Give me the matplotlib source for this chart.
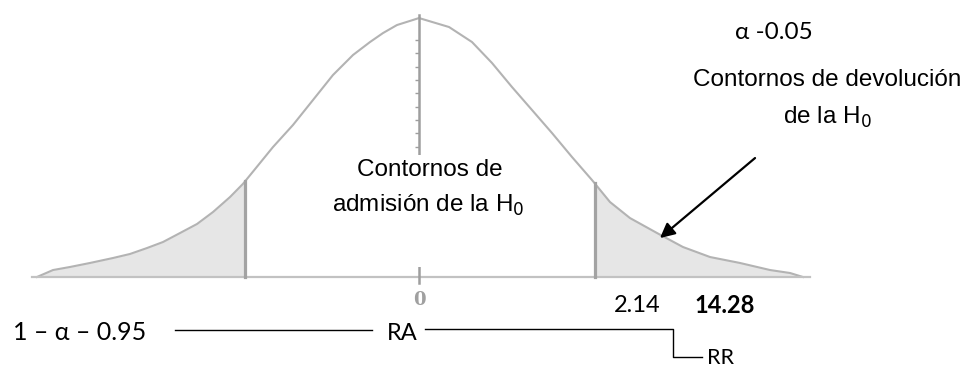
import numpy as np
import matplotlib
matplotlib.use("Agg")
import matplotlib.pyplot as plt
from matplotlib.patches import Rectangle

# ---- data (z units / density units) ----
curve_z = [-3.611, -3.459, -3.299, -3.110, -2.892, -2.732, -2.571, -2.420, -2.259,
           -2.098, -1.947, -1.786, -1.664, -1.569, -1.380, -1.191, -1.002, -0.813,
           -0.624, -0.463, -0.340, -0.208, -0.057, 0.000, 0.284, 0.501, 0.690,
           0.879, 1.068, 1.257, 1.446, 1.635, 1.805, 1.994, 2.250, 2.495, 2.751,
           3.034, 3.318, 3.507, 3.629]
curve_h = [0.0000, 0.0108, 0.0155, 0.0217, 0.0294, 0.0356, 0.0448, 0.0541, 0.0680,
           0.0820, 0.1005, 0.1237, 0.1440, 0.1630, 0.2010, 0.2351, 0.2737, 0.3124,
           0.3433, 0.3634, 0.3773, 0.3897, 0.3975, 0.4005, 0.3866, 0.3634, 0.3310,
           0.2938, 0.2583, 0.2227, 0.1856, 0.1500, 0.1160, 0.0912, 0.0680, 0.0464,
           0.0309, 0.0217, 0.0108, 0.0062, 0.0000]
crit_left = -1.645
crit_right = 1.66
axis_tick_h = [0.3665, 0.3464, 0.3248, 0.3047, 0.2846, 0.2629, 0.2428, 0.2227, 0.2010]
label_zero = "0"
label_crit = "2.14"
label_stat = "14.28"
label_conf = "1 – α – 0.95"
label_alpha = "α -0.05"
label_ra = "RA"
label_rr = "RR"

# ---- figure ----
fig = plt.figure(figsize=(9.64, 3.68), dpi=100)
ax = fig.add_axes([0, 0, 1, 1])
ax.set_xlim(-3.960, 5.151)
ax.set_ylim(-0.1407, 0.4284)
ax.axis("off")

cz = np.array(curve_z)
ch = np.array(curve_h)

# shaded tails
mask_l = cz <= crit_left
xl = np.append(cz[mask_l], crit_left)
yl = np.append(ch[mask_l], np.interp(crit_left, cz, ch))
ax.fill_between(xl, 0, yl, color="#e6e6e6", lw=0, zorder=1)
mask_r = cz >= crit_right
xr = np.insert(cz[mask_r], 0, crit_right)
yr = np.insert(ch[mask_r], 0, np.interp(crit_right, cz, ch))
ax.fill_between(xr, 0, yr, color="#e6e6e6", lw=0, zorder=1)

# curve
ax.plot(cz, ch, color="#b3b3b3", lw=1.5, zorder=2, solid_joinstyle="round")
# baseline
ax.plot([-3.66, 3.70], [0, 0], color="#c2c2c2", lw=1.6, zorder=2)

# critical lines
for c in (crit_left, crit_right):
    ax.plot([c, c], [0, np.interp(c, cz, ch)], color="#a3a3a3", lw=2.3, zorder=3)

# central axis with ticks
ax.plot([0, 0], [-0.0093, 0.405], color="#9e9e9e", lw=1.8, zorder=3)
ax.plot([0] * len(axis_tick_h), axis_tick_h, linestyle="none", marker=0,
        markersize=3, color="#9e9e9e", mew=1.0, zorder=3)

# white text box hiding the axis
ax.add_patch(Rectangle((-1.087, 0.0155), 2.354, 0.1732, facecolor="white",
                       edgecolor="none", zorder=4))

sans = ["Liberation Sans", "DejaVu Sans"]
cal = ["Lato", "DejaVu Sans"]

ax.text(0.104, 0.1655, "Contornos de", ha="center", va="center", fontsize=17.5,
        family=sans, zorder=5)
ax.text(0.085, 0.1113, "admisión de la H$_0$", ha="center", va="center", fontsize=17.5,
        family=sans, zorder=5)

ax.text(3.355, 0.3774, label_alpha, ha="center", va="center", fontsize=17.5,
        family=cal)
ax.text(3.856, 0.3047, "Contornos de devolución", ha="center", va="center",
        fontsize=17.5, family=sans)
ax.text(3.856, 0.2474, "de la H$_0$", ha="center", va="center", fontsize=17.5,
        family=sans)

ax.annotate("", xy=(2.278, 0.0603), xytext=(3.176, 0.184),
            arrowprops=dict(arrowstyle="-|>", color="black", lw=1.6,
                            mutation_scale=22, shrinkA=0, shrinkB=0))

ax.text(0, -0.0356, label_zero, ha="center", va="center", fontsize=13,
        color="#a0a0a0", family=["DejaVu Serif"], fontweight="bold")
ax.text(2.06, -0.0433, label_crit, ha="center", va="center", fontsize=17,
        family=cal)
ax.text(2.892, -0.0433, label_stat, ha="center", va="center", fontsize=17,
        family=cal, fontweight="bold")

ax.text(-3.837, -0.0851, label_conf, ha="left", va="center", fontsize=18,
        family=cal)
ax.plot([-2.306, -0.444], [-0.0820, -0.0820], color="black", lw=1.0)
ax.text(-0.161, -0.0866, label_ra, ha="center", va="center", fontsize=17,
        family=cal)
ax.plot([0.057, 2.401, 2.401, 2.675], [-0.0804, -0.0804, -0.1237, -0.1237],
        color="black", lw=1.0)
ax.text(2.722, -0.1253, label_rr, ha="left", va="center", fontsize=15.5,
        family=cal)

fig.savefig("out.png", dpi=100)
